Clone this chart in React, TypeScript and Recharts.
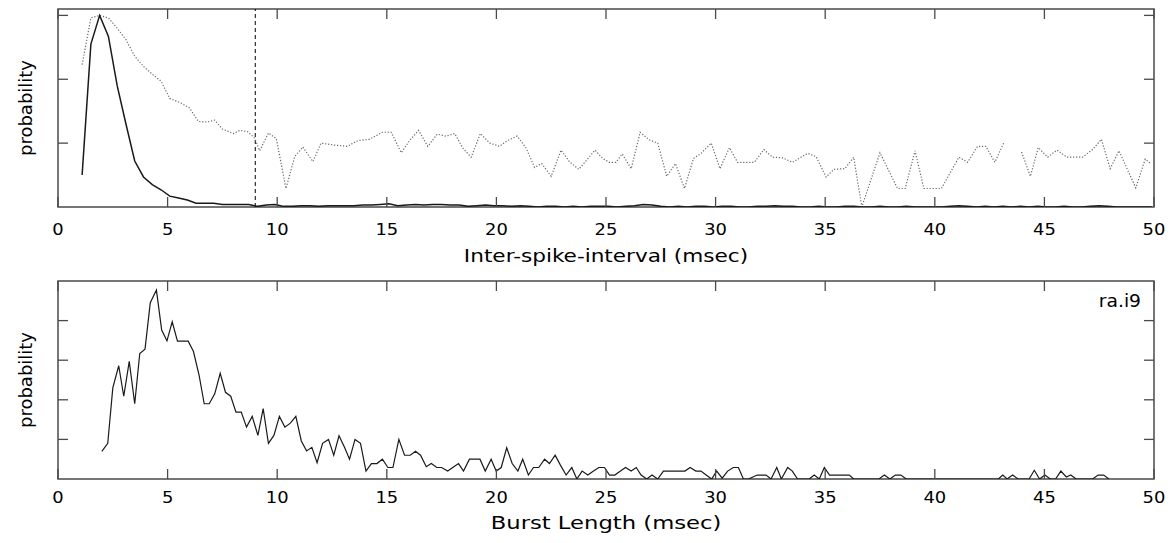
import React from 'react';
import { LineChart, Line, XAxis, YAxis, ReferenceLine, ReferenceArea } from 'recharts';

// ---------- data ----------
const xTicks = [0, 5, 10, 15, 20, 25, 30, 35, 40, 45, 50];
const isiYTicks = [1, 2, 3];
const burstYTicks = [1, 2, 3, 4];

// Inter-spike-interval histogram (solid), bins of 0.4 ms starting at 1.1 ms
const isiStart = 1.1;
const isiStep = 0.4;
const isiProb = [
  0.5, 2.55, 3.0, 2.67, 1.9, 1.3, 0.72, 0.47, 0.35, 0.27,
  0.17, 0.14, 0.11, 0.06, 0.06, 0.06, 0.04, 0.04, 0.04, 0.04,
  0.01, 0.03, 0.04, 0.01, 0.01, 0.02, 0.02, 0.01, 0.02, 0.02,
  0.02, 0.02, 0.03, 0.03, 0.04, 0.05, 0.02, 0.03, 0.04, 0.03,
  0.04, 0.04, 0.03, 0.03, 0.01, 0.02, 0.03, 0.02, 0.02, 0.01,
  0.02, 0.01, 0.0, 0.01, 0.01, 0.0, 0.01, 0.0, 0.01, 0.01,
  0.01, 0.0, 0.01, 0.02, 0.04, 0.03, 0.01, 0.0, 0.01, 0.0,
  0.01, 0.01, 0.0, 0.01, 0.01, 0.0, 0.0, 0.01, 0.01, 0.02,
  0.01, 0.01, 0.0, 0.0, 0.01, 0.0, 0.0, 0.01, 0.01, 0.0,
  0.0, 0.01, 0.0, 0.0, 0.01, 0.0, 0.0, 0.0, 0.0, 0.01,
  0.02, 0.01, 0.0, 0.01, 0.0, 0.01, 0.0, 0.01, 0.0, 0.01,
  0.0, 0.0, 0.01, 0.0, 0.0, 0.01, 0.02, 0.01, 0.0, 0.0,
  0.0, 0.0, 0.0,
];

// ISI (dotted, log-like scaled version)
const isiLogX = [
  1.1, 1.5, 1.9, 2.3, 2.7, 3.1, 3.5, 3.9, 4.3, 4.7,
  5.1, 5.6, 6.0, 6.4, 6.8, 7.15, 7.5, 8.0, 8.3, 8.65,
  8.97, 9.2, 9.6, 9.96, 10.4, 10.8, 11.17, 11.63, 12.0, 12.6,
  13.2, 13.68, 14.2, 14.8, 15.2, 15.66, 16.04, 16.45, 16.87, 17.3,
  17.7, 18.1, 18.47, 18.85, 19.27, 19.7, 20.14, 20.5, 20.95, 21.36,
  21.74, 22.07, 22.5, 22.95, 23.33, 23.76, 24.5, 24.85, 25.15, 25.45,
  25.74, 26.15, 26.56, 26.98, 27.36, 27.77, 28.17, 28.58, 28.99, 29.34,
  29.8, 30.2, 30.63, 31.0, 31.77, 32.2, 32.6, 33.06, 33.5, 34.2,
  34.58, 35.04, 35.4, 35.9, 36.3, 36.67, 37.5, 38.3, 38.65, 39.1,
  39.5, 40.3, 41.1, 41.5, 41.95, 42.33, 42.74, 43.14, 43.55, 43.96,
  44.36, 44.72, 45.15, 45.57, 46.03, 46.74, 47.2, 47.6, 48.0, 48.4,
  49.17, 49.6, 49.85,
];
const isiLogP = [
  2.23, 2.96, 3.0, 2.96, 2.8, 2.62, 2.36, 2.2, 2.08, 1.97,
  1.7, 1.63, 1.55, 1.34, 1.33, 1.36, 1.22, 1.15, 1.2, 1.18,
  1.08, 0.88, 1.16, 1.07, 0.29, 0.79, 0.94, 0.71, 1.0, 0.97,
  0.95, 1.04, 1.06, 1.17, 1.17, 0.85, 1.04, 1.2, 0.95, 1.14,
  1.11, 1.15, 0.92, 0.78, 1.15, 1.0, 0.95, 1.04, 1.11, 0.92,
  0.62, 0.68, 0.48, 0.89, 0.71, 0.59, 0.89, 0.76, 0.7, 0.7,
  0.83, 0.6, 1.17, 1.05, 1.0, 0.48, 0.68, 0.29, 0.76, 0.84,
  1.0, 0.6, 0.93, 0.7, 0.7, 0.9, 0.78, 0.77, 0.7, 0.84,
  0.79, 0.47, 0.59, 0.6, 0.78, 0.0, 0.85, 0.29, 0.29, 0.88,
  0.29, 0.29, 0.78, 0.7, 0.95, 0.95, 0.7, 1.0, null, 0.86,
  0.48, 0.93, 0.78, 0.89, 0.78, 0.78, 0.9, 1.06, 0.6, 0.88,
  0.3, 0.75, 0.68,
];

// Burst length histogram
const burstX = [
  2.0, 2.27, 2.5, 2.77, 3.0, 3.25, 3.5, 3.73, 3.97, 4.21,
  4.49, 4.73, 4.97, 5.21, 5.45, 5.7, 5.94, 6.18, 6.44, 6.67,
  6.9, 7.15, 7.4, 7.64, 7.88, 8.12, 8.36, 8.6, 8.86, 9.12,
  9.36, 9.6, 9.85, 10.1, 10.35, 10.6, 10.85, 11.1, 11.34, 11.58,
  11.82, 12.07, 12.34, 12.58, 12.82, 13.07, 13.3, 13.55, 13.8, 14.05,
  14.3, 14.55, 14.8, 15.05, 15.28, 15.55, 15.81, 16.07, 16.31, 16.54,
  16.8, 17.03, 17.28, 17.5, 17.78, 18.01, 18.27, 18.5, 18.77, 19.0,
  19.25, 19.49, 19.76, 19.99, 20.22, 20.47, 20.72, 20.98, 21.2, 21.46,
  21.69, 21.93, 22.2, 22.42, 22.68, 22.92, 23.18, 23.44, 23.67, 23.91,
  24.17, 24.43, 24.67, 24.93, 25.16, 25.4, 25.66, 25.89, 26.15, 26.38,
  26.6, 26.86, 27.1, 27.36, 27.62, 27.85, 28.1, 28.35, 28.6, 28.84,
  29.1, 29.33, 29.57, 29.82, 30.05, 30.3, 30.55, 30.81, 31.04, 31.27,
  31.5, 31.9, 32.3, 32.53, 32.79, 33.0, 33.29, 33.5, 33.74, 34.27,
  34.5, 34.73, 34.96, 35.2, 35.45, 35.7, 35.95, 36.1, 36.3, 37.45,
  37.7, 37.95, 38.2, 38.45, 38.7, 42.9, 43.1, 43.3, 43.55, 43.8,
  44.3, 44.54, 44.78, 45.02, 45.27, 45.51, 45.75, 46.0, 46.2, 46.45,
  47.2, 47.45, 47.7, 47.95,
];
const burstP = [
  0.7, 0.9, 2.3, 2.86, 2.09, 2.97, 1.9, 3.17, 3.28, 4.45,
  4.77, 3.76, 3.49, 3.97, 3.48, 3.48, 3.48, 3.22, 2.61, 1.9,
  1.9, 2.15, 2.67, 2.19, 2.09, 1.69, 1.69, 1.31, 1.58, 1.1,
  1.78, 0.9, 1.1, 1.58, 1.31, 1.41, 1.58, 0.96, 0.71, 0.8,
  0.41, 0.9, 1.0, 0.6, 1.09, 0.8, 0.5, 1.0, 0.9, 0.2,
  0.39, 0.39, 0.5, 0.29, 0.29, 1.0, 0.6, 0.6, 0.7, 0.6,
  0.31, 0.39, 0.29, 0.29, 0.2, 0.29, 0.39, 0.2, 0.5, 0.5,
  0.5, 0.2, 0.5, 0.2, 0.29, 0.79, 0.39, 0.2, 0.5, 0.1,
  0.29, 0.29, 0.5, 0.39, 0.6, 0.35, 0.1, 0.29, 0.0, 0.2,
  0.1, 0.2, 0.29, 0.29, 0.1, 0.1, 0.2, 0.29, 0.2, 0.29,
  0.1, 0.0, 0.1, 0.0, 0.2, 0.2, 0.2, 0.2, 0.2, 0.29,
  0.2, 0.2, 0.1, 0.0, 0.2, 0.02, 0.2, 0.29, 0.29, 0.0,
  0.0, 0.1, 0.1, 0.0, 0.29, 0.0, 0.29, 0.2, 0.0, 0.0,
  0.1, 0.0, 0.29, 0.1, 0.1, 0.1, 0.1, 0.1, 0.0, 0.0,
  0.1, 0.0, 0.1, 0.1, 0.0, 0.0, 0.1, 0.0, 0.1, 0.0,
  0.0, 0.22, 0.0, 0.1, 0.0, 0.0, 0.2, 0.05, 0.1, 0.0,
  0.0, 0.1, 0.1, 0.0,
];

const burstThreshold = 9;

// ---------- derived tables ----------
const isiData = isiProb.map((p, i) => ({ x: +(isiStart + i * isiStep).toFixed(2), p }));
const isiLogData = isiLogX.map((x, i) => ({ x, q: isiLogP[i] }));
const burstData = burstX.map((x, i) => ({ x, p: burstP[i] }));

// ---------- styling / layout ----------
const FONT = 'DejaVu Sans';
const W = 1174;
const Y_AXIS_W = 58;
const RIGHT = 20;
const PLOT_W = W - Y_AXIS_W - RIGHT;
const PLOT_H = 198;
const FRAME = '#4a4a4a';
const TICK_LEN = 10;
const TEXT_STRETCH = 1.2;

const makeXTick = (labelDy: number) => (props: any) => {
  const { x, y, payload } = props;
  return (
    <g>
      <line x1={x} x2={x} y1={y} y2={y - TICK_LEN} stroke={FRAME} strokeWidth={1.3} />
      <line x1={x} x2={x} y1={y - PLOT_H} y2={y - PLOT_H + TICK_LEN} stroke={FRAME} strokeWidth={1.3} />
      <text
        transform={`translate(${x}, ${y + labelDy}) scale(1.12, 1)`}
        x={0}
        y={0}
        textAnchor="middle"
        fontFamily={FONT}
        fontSize={16}
        fill="#000"
      >
        {payload.value}
      </text>
    </g>
  );
};

const yTick = (props: any) => {
  const { x, y } = props;
  return (
    <g>
      <line x1={x} x2={x + TICK_LEN} y1={y} y2={y} stroke={FRAME} strokeWidth={1.3} />
      <line x1={x + PLOT_W - TICK_LEN} x2={x + PLOT_W} y1={y} y2={y} stroke={FRAME} strokeWidth={1.3} />
    </g>
  );
};

const makeXLabel = (text: string, dy: number, stretch: number) => (props: any) => {
  const vb = props.viewBox || {};
  return (
    <text
      transform={`translate(${vb.x + vb.width / 2}, ${vb.y + dy}) scale(${stretch}, 1)`}
      x={0}
      y={0}
      textAnchor="middle"
      fontFamily={FONT}
      fontSize={18}
      fill="#000"
    >
      {text}
    </text>
  );
};

const yLabel = (props: any) => {
  const vb = props.viewBox || {};
  const cx = 25;
  const cy = vb.y + vb.height / 2;
  return (
    <text
      x={cx}
      y={cy}
      transform={`rotate(-90, ${cx}, ${cy})`}
      textAnchor="middle"
      dominantBaseline="central"
      fontFamily={FONT}
      fontSize={18}
      fill="#000"
    >
      probability
    </text>
  );
};

const cornerLabel = (props: any) => {
  const vb = props.viewBox || {};
  return (
    <text
      transform={`translate(${vb.x + vb.width - 13}, ${vb.y + 26}) scale(1.1, 1)`}
      x={0}
      y={0}
      textAnchor="end"
      fontFamily={FONT}
      fontSize={17}
      fill="#000"
    >
      ra.i9
    </text>
  );
};

export default function App() {
  return (
    <div style={{ position: 'absolute', left: 0, top: 0, width: W, height: 543, background: '#fff' }}>
      <div style={{ position: 'absolute', left: 0, top: 0 }}>
        <LineChart width={W} height={270} margin={{ top: 9, right: RIGHT, left: 0, bottom: 0 }}>
          <XAxis
            type="number"
            dataKey="x"
            domain={[0, 50]}
            ticks={xTicks}
            allowDataOverflow
            height={63}
            tickSize={0}
            tickMargin={0}
            tickLine={false}
            axisLine={false}
            interval={0}
            tick={makeXTick(28)}
            label={makeXLabel('Inter-spike-interval (msec)', 55, TEXT_STRETCH)}
          />
          <YAxis
            type="number"
            domain={[0, 3.1]}
            ticks={isiYTicks}
            allowDataOverflow
            width={Y_AXIS_W}
            tickSize={0}
            tickMargin={0}
            tickLine={false}
            axisLine={false}
            interval={0}
            tick={yTick}
            label={yLabel}
          />
          <ReferenceArea x1={0} x2={50} y1={0} y2={3.1} fill="none" stroke={FRAME} strokeWidth={1.5} />
          <ReferenceLine x={burstThreshold} stroke="#000" strokeWidth={1} strokeDasharray="4 3" />
          <Line
            data={isiLogData}
            dataKey="q"
            type="linear"
            stroke="#666"
            strokeWidth={1.2}
            strokeDasharray="1.2 1.8"
            dot={false}
            isAnimationActive={false}
            connectNulls={false}
          />
          <Line
            data={isiData}
            dataKey="p"
            type="linear"
            stroke="#1a1a1a"
            strokeWidth={1.5}
            dot={false}
            isAnimationActive={false}
          />
        </LineChart>
      </div>
      <div style={{ position: 'absolute', left: 0, top: 270 }}>
        <LineChart width={W} height={273} margin={{ top: 11, right: RIGHT, left: 0, bottom: 0 }}>
          <XAxis
            type="number"
            dataKey="x"
            domain={[0, 50]}
            ticks={xTicks}
            allowDataOverflow
            height={64}
            tickSize={0}
            tickMargin={0}
            tickLine={false}
            axisLine={false}
            interval={0}
            tick={makeXTick(24)}
            label={makeXLabel('Burst Length (msec)', 50, 1.26)}
          />
          <YAxis
            type="number"
            domain={[0, 5]}
            ticks={burstYTicks}
            allowDataOverflow
            width={Y_AXIS_W}
            tickSize={0}
            tickMargin={0}
            tickLine={false}
            axisLine={false}
            interval={0}
            tick={yTick}
            label={yLabel}
          />
          <ReferenceArea
            x1={0}
            x2={50}
            y1={0}
            y2={5}
            fill="none"
            stroke={FRAME}
            strokeWidth={1.5}
            label={cornerLabel}
          />
          <Line
            data={burstData}
            dataKey="p"
            type="linear"
            stroke="#1a1a1a"
            strokeWidth={1.2}
            dot={false}
            isAnimationActive={false}
          />
        </LineChart>
      </div>
    </div>
  );
}
